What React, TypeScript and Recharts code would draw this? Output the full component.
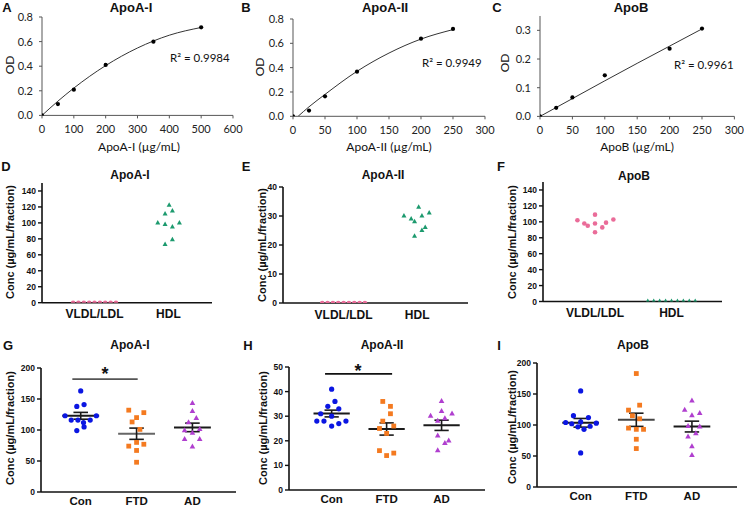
import React from 'react';
import { ComposedChart, Scatter, Line, XAxis, YAxis, ReferenceLine } from 'recharts';

// ================= DATA =================
// Row 1 – standard curves (OD vs concentration)
const apoAIConc = [0, 50, 100, 200, 350, 500];
const apoAIOD = [0, 0.092, 0.209, 0.41, 0.599, 0.716];
const apoAIFitConc = [0, 50, 100, 200, 300, 400, 500];
const apoAIFitOD = [0, 0.116, 0.222, 0.405, 0.548, 0.652, 0.715];

const apoAIIConc = [0, 25, 50, 100, 200, 250];
const apoAIIOD = [0, 0.047, 0.164, 0.367, 0.638, 0.718];
const apoAIIFitConc = [8, 25, 50, 100, 150, 200, 250];
const apoAIIFitOD = [0, 0.078, 0.18, 0.37, 0.52, 0.635, 0.713];

const apoBConc = [0, 25, 50, 100, 200, 250];
const apoBOD = [0, 0.03, 0.066, 0.143, 0.236, 0.306];
const apoBFitConc = [0, 50, 100, 150, 200, 250];
const apoBFitOD = [0, 0.062, 0.124, 0.185, 0.245, 0.305];

const r2Labels = ['R\u00b2 = 0.9984', 'R\u00b2 = 0.9949', 'R\u00b2 = 0.9961'];
const xTitles = ['ApoA-I (\u00b5g/mL)', 'ApoA-II (\u00b5g/mL)', 'ApoB (\u00b5g/mL)'];
const odTicksA = [0, 0.2, 0.4, 0.6, 0.8];
const odTicksB = [0, 0.1, 0.2, 0.3];
const concTicksA = [0, 100, 200, 300, 400, 500, 600];
const concTicksB = [0, 50, 100, 150, 200, 250, 300];

// Row 2 – lipoprotein fractions
const fractionCats = ['VLDL/LDL', 'HDL'];
const dVldl = [0, 0, 0, 0, 0, 0, 0, 0, 0];
const dHdl = [122, 100, 111, 115, 98, 95, 100, 79, 73];
const dHdlJit = [0.01, -0.144, -0.045, 0.054, -0.045, 0.054, 0.149, 0.054, -0.045];
const zeroRowJit = [-0.29, -0.2175, -0.145, -0.0725, 0, 0.0725, 0.145, 0.2175, 0.29];
const eVldl = [0, 0, 0, 0, 0, 0, 0, 0, 0];
const eHdl = [33, 30, 30, 31, 29, 28, 26, 25, 23];
const eHdlJit = [0.02, -0.18, 0.064, 0.163, -0.082, -0.036, 0.109, 0.064, -0.036];
const fVldl = [102, 98, 95, 109, 98, 87, 93, 99, 103];
const fVldlJit = [-0.23, -0.14, -0.095, 0, 0, 0, 0.095, 0.144, 0.24];
const fHdl = [0, 0, 0, 0, 0, 0, 0, 0, 0];
const fHdlJit = [-0.31, -0.2325, -0.155, -0.0775, 0, 0.0775, 0.155, 0.2325, 0.31];

// Row 3 – patient groups
const groupCats = ['Con', 'FTD', 'AD'];
const gCon = [163, 141, 138, 123, 123, 116, 116, 116, 112, 105, 99];
const gConJit = [0, 0.06, -0.07, -0.28, 0.28, -0.17, -0.05, 0.17, 0.05, 0.06, -0.07];
const gFtd = [132, 128, 120, 113, 101, 74, 80, 77, 67, 48];
const gFtdJit = [-0.14, 0.13, 0, -0.08, 0.06, -0.14, 0, 0.13, 0, 0];
const gAd = [143, 130, 119, 112, 99, 101, 95, 85, 85, 73];
const gAdJit = [0, 0, 0.07, -0.07, -0.14, 0.13, 0, -0.14, 0.13, 0];

const hCon = [41, 36, 34, 33, 31, 30, 28, 28, 28, 27, 26];
const hConJit = [0, 0.06, -0.07, 0.13, -0.2, 0, -0.27, -0.14, 0.26, 0.13, 0];
const hFtd = [36, 34, 31, 28, 25, 26, 23, 16, 15, 14];
const hFtdJit = [-0.07, 0.07, 0.07, -0.07, -0.13, 0.13, 0, -0.13, 0.13, 0];
const hAd = [36, 32, 31, 30, 29, 28, 22, 20, 19, 16];
const hAdJit = [0, 0, 0.19, -0.2, 0.06, -0.07, -0.07, 0.13, 0.06, -0.07];

const iCon = [155, 115, 112, 104, 102, 105, 103, 97, 93, 98, 55];
const iConJit = [0, -0.13, 0.14, -0.27, -0.16, 0, 0.28, -0.05, 0.06, 0.17, 0];
const iFtd = [183, 132, 124, 115, 110, 95, 93, 93, 77, 62];
const iFtdJit = [0, 0.06, -0.14, -0.07, 0.06, -0.14, 0, 0.13, 0, 0];
const iAd = [139, 124, 119, 115, 98, 97, 86, 81, 65, 51];
const iAdJit = [0, -0.13, 0.14, 0, -0.07, 0.14, 0.07, -0.07, 0, 0];

const sigG = { from: 0.85, to: 2.02, y: 182 };
const sigH = { from: 0.88, to: 2.1, y: 47.2 };

// ================= HELPERS =================
const mean = (a: number[]) => a.reduce((s, v) => s + v, 0) / a.length;
const sem = (a: number[]) => {
  const m = mean(a);
  const v = a.reduce((s, x) => s + (x - m) ** 2, 0) / (a.length - 1);
  return Math.sqrt(v / a.length);
};
const pts = (xs: number[], ys: number[]) => xs.map((x, i) => ({ x, y: ys[i] }));
const jit = (c: number, offs: number[], ys: number[]) => ys.map((y, i) => ({ x: c + offs[i], y }));

const PINK = '#EA6C99';
const GREEN = '#1C9A6E';
const BLUE = '#0B16E2';
const ORANGE = '#F47A20';
const PURPLE = '#B03FCF';

const circle = (r: number, fill: string) => (p: any) => <circle cx={p.cx} cy={p.cy} r={r} fill={fill} />;
const square = (s: number, fill: string) => (p: any) => (
  <rect x={p.cx - s / 2} y={p.cy - s / 2} width={s} height={s} fill={fill} />
);
const triangle = (w: number, h: number, fill: string) => (p: any) => (
  <polygon
    points={`${p.cx - w / 2},${p.cy + h / 3} ${p.cx + w / 2},${p.cy + h / 3} ${p.cx},${p.cy - (2 * h) / 3}`}
    fill={fill}
  />
);

const PAD = { l: 40, r: 18, t: 8, b: 22 };

interface Frame {
  x0: number; x1: number; y0: number; y1: number;
  xDomain: [number, number]; yDomain: [number, number];
  xTicks: number[]; yTicks: number[];
}

type Kind = 'excel' | 'prism';

function panel(key: string, f: Frame, kind: Kind, xFmt: (v: number) => string, yFmt: (v: number) => string, series: React.ReactNode[], catSize = 12, catMargin = 7) {
  const width = f.x1 - f.x0 + PAD.l + PAD.r;
  const height = f.y1 - f.y0 + PAD.t + PAD.b;
  const excel = kind === 'excel';
  const axisColor = excel ? '#555' : '#111';
  const axisW = excel ? 1 : 1.6;
  return (
    <div key={key} style={{ position: 'absolute', left: f.x0 - PAD.l, top: f.y0 - PAD.t }}>
      <ComposedChart width={width} height={height} margin={{ top: PAD.t, right: PAD.r, bottom: 0, left: 0 }}>
        <XAxis
          type="number"
          dataKey="x"
          domain={f.xDomain}
          ticks={f.xTicks}
          allowDataOverflow
          interval={0}
          height={PAD.b}
          tickFormatter={xFmt}
          axisLine={{ stroke: axisColor, strokeWidth: axisW }}
          tickLine={excel ? { stroke: axisColor, strokeWidth: 1 } : false}
          tickSize={excel ? 3 : 0}
          tickMargin={excel ? 7 : catMargin}
          tick={
            excel
              ? { fontSize: 11, fontFamily: 'Lato', fill: '#222' }
              : { fontSize: catSize, fontFamily: 'Liberation Sans', fontWeight: 700, fill: '#111' }
          }
        />
        <YAxis
          type="number"
          dataKey="y"
          domain={f.yDomain}
          ticks={f.yTicks}
          allowDataOverflow
          interval={0}
          width={PAD.l}
          tickFormatter={yFmt}
          axisLine={{ stroke: axisColor, strokeWidth: axisW }}
          tickLine={{ stroke: axisColor, strokeWidth: excel ? 1 : 1.4 }}
          tickSize={excel ? 3 : 4}
          tickMargin={excel ? 6 : 2}
          tick={
            excel
              ? { fontSize: 11, fontFamily: 'Lato', fill: '#222' }
              : { fontSize: 8.5, fontFamily: 'Liberation Sans', fontWeight: 700, fill: '#111' }
          }
        />
        {series}
      </ComposedChart>
    </div>
  );
}

function stdSeries(k: string, xs: number[], ys: number[], fx: number[], fy: number[]) {
  return [
    <Line key={k + 'fit'} data={pts(fx, fy)} dataKey="y" type="monotone" stroke="#333" strokeWidth={1} dot={false} isAnimationActive={false} />,
    <Scatter key={k + 'pts'} data={pts(xs, ys)} shape={circle(2.1, '#000')} isAnimationActive={false} />,
  ];
}

function meanSem(k: string, c: number, vals: number[], meanColor = '#1a1a1a', barColor = '#1a1a1a') {
  const m = mean(vals);
  const s = sem(vals);
  return [
    <ReferenceLine key={k + 'm'} segment={[{ x: c - 0.33, y: m }, { x: c + 0.33, y: m }]} stroke={meanColor} strokeWidth={2} ifOverflow="visible" />,
    <ReferenceLine key={k + 'v'} segment={[{ x: c, y: m - s }, { x: c, y: m + s }]} stroke={barColor} strokeWidth={1.6} ifOverflow="visible" />,
    <ReferenceLine key={k + 't'} segment={[{ x: c - 0.13, y: m + s }, { x: c + 0.13, y: m + s }]} stroke={barColor} strokeWidth={1.6} ifOverflow="visible" />,
    <ReferenceLine key={k + 'b'} segment={[{ x: c - 0.13, y: m - s }, { x: c + 0.13, y: m - s }]} stroke={barColor} strokeWidth={1.6} ifOverflow="visible" />,
  ];
}

function groupSeries(k: string, con: number[], conJ: number[], ftd: number[], ftdJ: number[], ad: number[], adJ: number[], ftdMean = '#1a1a1a') {
  return [
    <Scatter key={k + 'c'} data={jit(1, conJ, con)} shape={circle(2.6, BLUE)} isAnimationActive={false} />,
    <Scatter key={k + 'f'} data={jit(2, ftdJ, ftd)} shape={square(4.8, ORANGE)} isAnimationActive={false} />,
    <Scatter key={k + 'a'} data={jit(3, adJ, ad)} shape={triangle(5.6, 5, PURPLE)} isAnimationActive={false} />,
    ...meanSem(k + 'C', 1, con),
    ...meanSem(k + 'F', 2, ftd, ftdMean),
    ...meanSem(k + 'A', 3, ad),
  ];
}

function T({ x, y, text, size, bold, family, anchor = 'middle', rotate = false, color = '#111' }: any) {
  const tx = anchor === 'middle' ? '-50%' : anchor === 'end' ? '-100%' : '0';
  return (
    <div
      style={{
        position: 'absolute',
        left: x,
        top: y,
        transform: `translate(${tx}, -50%)${rotate ? ' rotate(-90deg)' : ''}`,
        transformOrigin: rotate ? '50% 50%' : undefined,
        fontSize: size,
        fontWeight: bold ? 700 : 400,
        fontFamily: family,
        lineHeight: 1,
        whiteSpace: 'nowrap',
        color,
      }}
    >
      {text}
    </div>
  );
}

const ARIAL = '"Liberation Sans", Arial, sans-serif';
const CAL = 'Lato, sans-serif';
const fmt1 = (v: number) => v.toFixed(1);
const fmt0 = (v: number) => String(v);
const catFmt = (cats: string[]) => (v: number) => cats[Math.round(v) - 1] ?? '';

export default function App() {
  const fA: Frame = { x0: 42.3, x1: 233.3, y0: 17.3, y1: 115.7, xDomain: [0, 600], yDomain: [0, 0.8], xTicks: concTicksA, yTicks: odTicksA };
  const fB: Frame = { x0: 293.3, x1: 485.3, y0: 19, y1: 116.3, xDomain: [0, 300], yDomain: [0, 0.8], xTicks: concTicksB, yTicks: odTicksA };
  const fC: Frame = { x0: 540, x1: 734.4, y0: 16.3, y1: 116.7, xDomain: [0, 300], yDomain: [0, 0.35], xTicks: concTicksB, yTicks: odTicksB };

  const fD: Frame = { x0: 42, x1: 212, y0: 183.3, y1: 303, xDomain: [0.289, 2.59], yDomain: [0, 150], xTicks: [1, 2], yTicks: [0, 20, 40, 60, 80, 100, 120, 140] };
  const fE: Frame = { x0: 283, x1: 468, y0: 187, y1: 303, xDomain: [0.177, 2.69], yDomain: [0, 40], xTicks: [1, 2], yTicks: [0, 10, 20, 30, 40] };
  const fF: Frame = { x0: 543, x1: 722, y0: 181.5, y1: 301, xDomain: [0.32, 2.66], yDomain: [0, 150], xTicks: [1, 2], yTicks: [0, 20, 40, 60, 80, 100, 120, 140] };

  const fG: Frame = { x0: 41, x1: 236, y0: 368, y1: 492, xDomain: [0.289, 3.78], yDomain: [0, 200], xTicks: [1, 2, 3], yTicks: [0, 50, 100, 150, 200] };
  const fH: Frame = { x0: 289, x1: 485, y0: 367, y1: 490, xDomain: [0.224, 3.79], yDomain: [0, 50], xTicks: [1, 2, 3], yTicks: [0, 10, 20, 30, 40, 50] };
  const fI: Frame = { x0: 537, x1: 737, y0: 363, y1: 487, xDomain: [0.215, 3.81], yDomain: [0, 200], xTicks: [1, 2, 3], yTicks: [0, 50, 100, 150, 200] };

  const conc = 'Conc (\u00b5g/mL/fraction)';

  return (
    <div style={{ position: 'absolute', left: 0, top: 0, width: 744, height: 509, background: '#fff', overflow: 'hidden' }}>
      {/* Row 1 */}
      {panel('A', fA, 'excel', fmt0, fmt1, stdSeries('a', apoAIConc, apoAIOD, apoAIFitConc, apoAIFitOD))}
      {panel('B', fB, 'excel', fmt0, fmt1, stdSeries('b', apoAIIConc, apoAIIOD, apoAIIFitConc, apoAIIFitOD))}
      {panel('C', fC, 'excel', fmt0, fmt1, stdSeries('c', apoBConc, apoBOD, apoBFitConc, apoBFitOD))}

      {/* Row 2 */}
      {panel('D', fD, 'prism', catFmt(fractionCats), fmt0, [
        <Scatter key="dv" data={jit(1, zeroRowJit, dVldl)} shape={circle(2.3, PINK)} isAnimationActive={false} />,
        <Scatter key="dh" data={jit(2, dHdlJit, dHdl)} shape={triangle(5, 4.5, GREEN)} isAnimationActive={false} />,
      ])}
      {panel('E', fE, 'prism', catFmt(fractionCats), fmt0, [
        <Scatter key="ev" data={jit(1, zeroRowJit, eVldl)} shape={circle(2.3, PINK)} isAnimationActive={false} />,
        <Scatter key="eh" data={jit(2, eHdlJit, eHdl)} shape={triangle(5, 4.5, GREEN)} isAnimationActive={false} />,
      ])}
      {panel('F', fF, 'prism', catFmt(fractionCats), fmt0, [
        <Scatter key="fv" data={jit(1, fVldlJit, fVldl)} shape={circle(2.3, PINK)} isAnimationActive={false} />,
        <Scatter key="fh" data={jit(2, fHdlJit, fHdl)} shape={triangle(5, 4.5, GREEN)} isAnimationActive={false} />,
      ])}

      {/* Row 3 */}
      {panel('G', fG, 'prism', catFmt(groupCats), fmt0, [
        ...groupSeries('g', gCon, gConJit, gFtd, gFtdJit, gAd, gAdJit, '#666'),
        <ReferenceLine key="gsig" segment={[{ x: sigG.from, y: sigG.y }, { x: sigG.to, y: sigG.y }]} stroke="#555" strokeWidth={1.6} ifOverflow="visible" />,
      ], 11.5, 5)}
      {panel('H', fH, 'prism', catFmt(groupCats), fmt0, [
        ...groupSeries('h', hCon, hConJit, hFtd, hFtdJit, hAd, hAdJit),
        <ReferenceLine key="hsig" segment={[{ x: sigH.from, y: sigH.y }, { x: sigH.to, y: sigH.y }]} stroke="#111" strokeWidth={1.6} ifOverflow="visible" />,
      ], 11.5, 5)}
      {panel('I', fI, 'prism', catFmt(groupCats), fmt0, [
        ...groupSeries('i', iCon, iConJit, iFtd, iFtdJit, iAd, iAdJit, '#444'),
      ], 11.5, 5)}

      {/* Panel letters */}
      <T x={7} y={7} text="A" size={13} bold family={ARIAL} />
      <T x={246} y={7} text="B" size={13} bold family={ARIAL} />
      <T x={497} y={7} text="C" size={13} bold family={ARIAL} />
      <T x={6} y={166} text="D" size={13} bold family={ARIAL} />
      <T x={246} y={166} text="E" size={13} bold family={ARIAL} />
      <T x={501} y={166} text="F" size={13} bold family={ARIAL} />
      <T x={8} y={345} text="G" size={13} bold family={ARIAL} />
      <T x={248} y={345} text="H" size={13} bold family={ARIAL} />
      <T x={499} y={345} text="I" size={13} bold family={ARIAL} />

      {/* Titles */}
      <T x={131} y={7} text="ApoA-I" size={13} bold family={ARIAL} />
      <T x={385} y={7} text="ApoA-II" size={13} bold family={ARIAL} />
      <T x={631} y={7} text="ApoB" size={13} bold family={ARIAL} />
      <T x={130} y={175} text="ApoA-I" size={12} bold family={ARIAL} />
      <T x={383} y={175} text="ApoA-II" size={12} bold family={ARIAL} />
      <T x={634} y={176} text="ApoB" size={12} bold family={ARIAL} />
      <T x={130} y={345} text="ApoA-I" size={12} bold family={ARIAL} />
      <T x={382} y={345} text="ApoA-II" size={12} bold family={ARIAL} />
      <T x={633} y={345} text="ApoB" size={12} bold family={ARIAL} />

      {/* Row 1 axis titles and R² */}
      <T x={10} y={65} text="OD" size={12} family={CAL} rotate />
      <T x={260} y={67} text="OD" size={12} family={CAL} rotate />
      <T x={505} y={63} text="OD" size={12} family={CAL} rotate />
      <T x={139} y={147} text={xTitles[0]} size={12} family={CAL} />
      <T x={389} y={147} text={xTitles[1]} size={12} family={CAL} />
      <T x={637} y={147} text={xTitles[2]} size={12} family={CAL} />
      <T x={170} y={58} text={r2Labels[0]} size={11.5} family={CAL} anchor="start" />
      <T x={422} y={63} text={r2Labels[1]} size={11.5} family={CAL} anchor="start" />
      <T x={674} y={65} text={r2Labels[2]} size={11.5} family={CAL} anchor="start" />

      {/* Rows 2-3 y titles */}
      <T x={10} y={242} text={conc} size={11} bold family={ARIAL} rotate />
      <T x={262} y={245} text={conc} size={11} bold family={ARIAL} rotate />
      <T x={512} y={242} text={conc} size={11} bold family={ARIAL} rotate />
      <T x={10} y={428} text={conc} size={11} bold family={ARIAL} rotate />
      <T x={263} y={428} text={conc} size={11} bold family={ARIAL} rotate />
      <T x={512} y={427} text={conc} size={11} bold family={ARIAL} rotate />

      {/* Significance stars */}
      <T x={105} y={374} text="*" size={18} bold family={ARIAL} />
      <T x={358} y={371} text="*" size={18} bold family={ARIAL} />
    </div>
  );
}
